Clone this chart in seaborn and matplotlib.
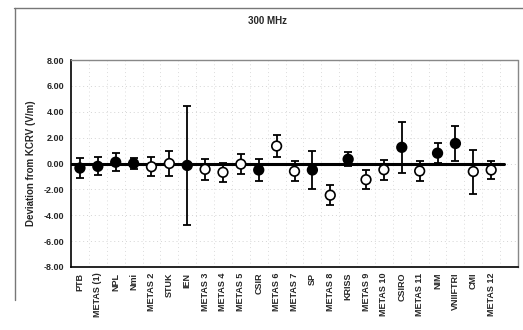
import matplotlib
matplotlib.use("Agg")
import matplotlib.pyplot as plt
import seaborn as sns
import pandas as pd
import numpy as np
from matplotlib.lines import Line2D

labs = ["PTB", "METAS (1)", "NPL", "Nmi", "METAS 2", "STUK", "IEN", "METAS 3",
        "METAS 4", "METAS 5", "CSIR", "METAS 6", "METAS 7", "SP", "METAS 8",
        "KRISS", "METAS 9", "METAS 10", "CSIRO", "METAS 11", "NIM", "VNIIFTRI",
        "CMI", "METAS 12"]
dev = [-0.35, -0.22, 0.1, 0.0, -0.25, 0.0, -0.15, -0.45, -0.68, -0.05, -0.5,
       1.35, -0.6, -0.5, -2.45, 0.33, -1.25, -0.48, 1.25, -0.58, 0.8, 1.55,
       -0.62, -0.5]
unc = [0.8, 0.7, 0.7, 0.4, 0.75, 1.0, 4.6, 0.8, 0.72, 0.8, 0.85, 0.83, 0.78,
       1.45, 0.78, 0.56, 0.75, 0.78, 1.95, 0.77, 0.77, 1.36, 1.7, 0.72]
kind = ["filled", "filled", "filled", "filled", "open", "open", "filled", "open",
        "open", "open", "filled", "open", "open", "filled", "open", "filled",
        "open", "open", "filled", "open", "filled", "filled", "open", "open"]
yticks = [8, 6, 4, 2, 0, -2, -4, -6, -8]

df = pd.DataFrame({"lab": labs, "dev": dev, "unc": unc, "kind": kind})
df["x"] = np.arange(len(df))

sns.set_style("white")
plt.rcParams["font.family"] = ["Liberation Sans", "DejaVu Sans"]

fig = plt.figure(figsize=(5.23, 3.30), dpi=100)
ax = fig.add_axes([71 / 523, 1 - 267 / 330, (518 - 71) / 523, (267 - 60) / 330])

# light dotted grid
for yv in yticks:
    ax.axhline(yv, color="#d4d4d4", ls=(0, (1, 3)), lw=0.7, zorder=0)
for xb in np.arange(0.5, 24.5, 1):
    ax.axvline(xb, color="#dcdcdc", ls=(0, (1, 3)), lw=0.7, zorder=0)

# reference zero line
ax.plot([-0.5, 23.7], [0, 0], color="black", lw=2.2, zorder=2)

ax.errorbar(df["x"], df["dev"], yerr=df["unc"], fmt="none", ecolor="black",
            elinewidth=1.3, capsize=3.2, capthick=1.3, zorder=3)
sns.scatterplot(data=df, x="x", y="dev", hue="kind",
                palette={"filled": "black", "open": "white"},
                edgecolor="black", linewidth=1.2, s=48, legend=False,
                ax=ax, zorder=4)

ax.set_xlim(-0.5, 24.5)
ax.set_ylim(-8, 8)
ax.set_yticks(yticks)
ax.set_yticklabels([f"{v:.2f}" for v in yticks], fontsize=6.5, fontweight="bold")
ax.set_xticks(df["x"])
ax.set_xticklabels(labs, rotation=90, fontsize=6.5, fontweight="bold")
ax.set_xticks(np.arange(0.5, 24.5, 1), minor=True)
ax.tick_params(axis="x", which="major", length=0, pad=4)
ax.tick_params(axis="x", which="minor", length=3, width=1, direction="out",
               color="black")
ax.tick_params(axis="y", length=3, width=1, direction="out", color="black", pad=2)
ax.set_xlabel("")
ax.set_ylabel("Deviation from KCRV (V/m)", fontsize=7, fontweight="bold",
              labelpad=5)

for s in ["left", "bottom"]:
    ax.spines[s].set_color("black")
    ax.spines[s].set_linewidth(1.2)
for s in ["top", "right"]:
    ax.spines[s].set_color("#888888")
    ax.spines[s].set_linestyle((0, (1, 1)))
    ax.spines[s].set_linewidth(1.0)

fig.text(268 / 523, 1 - 21 / 330, "300 MHz", ha="center", va="center",
         fontsize=7, fontweight="bold")

# outer chart border (scanned frame, top and left)
fig.add_artist(Line2D([14 / 523, 1], [1 - 8 / 330, 1 - 8 / 330],
                      color="#777777", lw=1.0, transform=fig.transFigure))
fig.add_artist(Line2D([15 / 523, 15 / 523], [1 - 8 / 330, 1 - 300 / 330],
                      color="#777777", lw=1.0, transform=fig.transFigure))

fig.savefig("out.png", dpi=100)
